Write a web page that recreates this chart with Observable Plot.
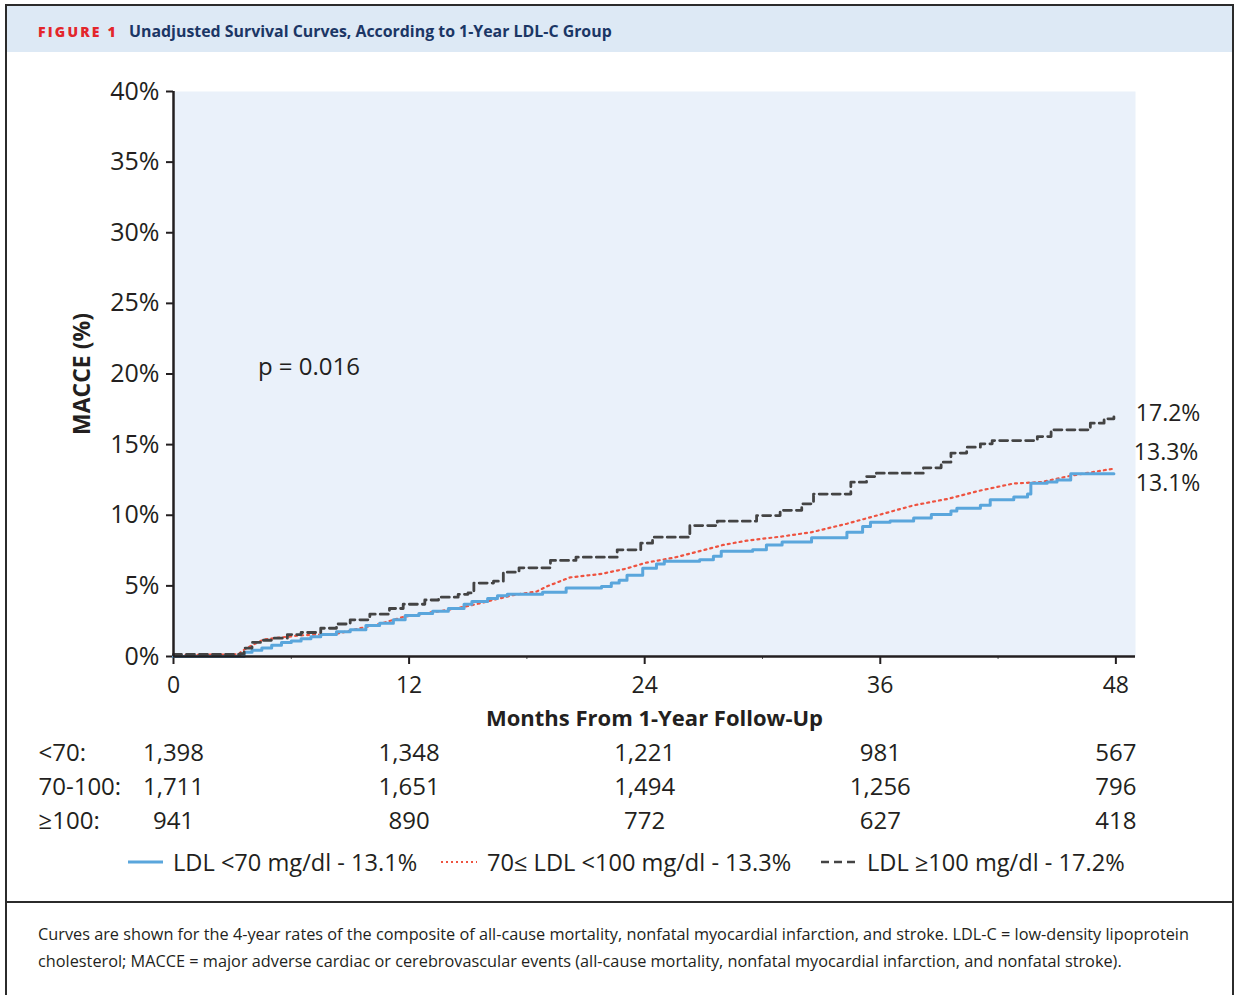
<!DOCTYPE html>
<html><head><meta charset="utf-8">
<script src="https://cdn.jsdelivr.net/npm/d3@7"></script>
<script src="https://cdn.jsdelivr.net/npm/@observablehq/plot@0.6"></script>
<style>
body{margin:0;background:#fff;font-family:"Open Sans",sans-serif;color:#231f20;}
#fig{position:relative;width:1238px;height:995px;overflow:hidden;background:#fff;}
.border{position:absolute;left:5px;top:4px;width:1229px;height:1010px;border:2px solid #2b2b2b;box-sizing:border-box;}
.header{position:absolute;left:7px;top:6px;width:1225px;height:46px;background:#dde9f5;}
.title{position:absolute;left:38px;top:21px;white-space:nowrap;line-height:20px;}
.fig1{color:#e3262b;font-weight:800;font-size:14px;letter-spacing:2.2px;}
.ttl{color:#1b3665;font-weight:700;font-size:15.9px;margin-left:11px;}
.sep{position:absolute;left:5px;top:901px;width:1229px;height:2px;background:#2b2b2b;}
.caption{position:absolute;left:38px;top:921px;font-size:16.3px;line-height:27px;white-space:nowrap;color:#231f20;}
#chart{position:absolute;left:0;top:52px;}
.leg{position:absolute;top:846px;font-size:23.6px;white-space:nowrap;display:flex;align-items:center;height:32px;}
.leg svg{margin-right:10px;}
</style></head>
<body><div id="fig">
<div class="header"></div>
<div class="title"><span class="fig1">FIGURE 1</span><span class="ttl">Unadjusted Survival Curves, According to 1-Year LDL-C Group</span></div>
<div id="chart"></div>
<div class="leg" style="left:128px"><svg width="35" height="6"><line x1="0" x2="35" y1="3" y2="3" stroke="#5aa6dc" stroke-width="3"/></svg>LDL &lt;70 mg/dl - 13.1%</div>
<div class="leg" style="left:440px"><svg width="37" height="6"><line x1="1" x2="37" y1="3" y2="3" stroke="#ee5340" stroke-width="2" stroke-dasharray="2,3"/></svg>70≤ LDL &lt;100 mg/dl - 13.3%</div>
<div class="leg" style="left:821px"><svg width="36" height="6"><line x1="0" x2="36" y1="3" y2="3" stroke="#444" stroke-width="2.5" stroke-dasharray="8,5"/></svg>LDL ≥100 mg/dl - 17.2%</div>
<div class="sep"></div>
<div class="caption">Curves are shown for the 4-year rates of the composite of all-cause mortality, nonfatal myocardial infarction, and stroke. LDL-C = low-density lipoprotein<br>cholesterol; MACCE = major adverse cardiac or cerebrovascular events (all-cause mortality, nonfatal myocardial infarction, and nonfatal stroke).</div>
<div class="border"></div>
</div>
<script>
// ---- data ----
const months = [0, 12, 24, 36, 48];
const minorMonths = [6, 18, 30, 42];
const yTicks = [0, 5, 10, 15, 20, 25, 30, 35, 40];
const riskLow = [1398, 1348, 1221, 981, 567];
const riskMid = [1711, 1651, 1494, 1256, 796];
const riskHigh = [941, 890, 772, 627, 418];
const riskLabels = ["<70:", "70-100:", "≥100:"];
const endLabels = [13.1, 13.3, 17.2];
const pValue = "p = 0.016";

// [months, cumulative MACCE %]
const ldlLow = [[0,0],[3.4,0],[3.6,0.3],[4.0,0.45],[4.5,0.6],[5.0,0.8],[5.5,1.0],[6.0,1.1],[6.5,1.25],[7.0,1.4],[7.5,1.55],[8.3,1.75],[9.0,1.9],[9.8,2.2],[10.5,2.35],[11.2,2.6],[11.8,2.9],[12.5,3.05],[13.2,3.2],[14.0,3.4],[14.8,3.7],[15.2,3.9],[16.0,4.1],[16.5,4.3],[17.0,4.4],[18.8,4.55],[20.0,4.85],[21.8,4.95],[22.3,5.2],[22.7,5.4],[23.1,5.75],[23.9,6.25],[24.6,6.55],[25.0,6.75],[26.8,6.85],[27.5,7.1],[27.9,7.45],[29.5,7.55],[30.2,7.9],[31.0,8.1],[32.5,8.4],[34.3,8.8],[35.1,9.2],[35.5,9.5],[36.5,9.6],[37.7,9.8],[38.6,10.05],[39.6,10.3],[39.9,10.5],[41.1,10.7],[41.6,11.1],[42.8,11.3],[43.5,11.5],[43.67,12.27],[44.5,12.35],[45.0,12.5],[45.7,12.93],[47.9,12.93]];
const ldlMid = [[0,0.1],[3.3,0.15],[3.5,0.4],[4.0,0.8],[4.6,1.2],[5.5,1.35],[6.5,1.5],[8.3,1.6],[9.5,2.0],[10.5,2.3],[11.7,2.8],[13,3.1],[14,3.3],[15.1,3.6],[16,3.9],[17.3,4.35],[18.5,4.6],[19.0,4.95],[20.2,5.6],[21.8,5.85],[23,6.2],[24.1,6.65],[25.5,7.0],[27.2,7.6],[28,7.9],[29.2,8.2],[31,8.5],[32.5,8.8],[34.3,9.4],[36.0,10.05],[37.7,10.7],[39.4,11.15],[41.1,11.75],[42.8,12.25],[44.2,12.35],[45.7,12.8],[47.9,13.3]];
const ldlHigh = [[0,0.15],[3.4,0.2],[3.6,0.6],[4.0,1.0],[4.5,1.15],[5.0,1.3],[5.8,1.55],[6.5,1.7],[7.5,2.0],[8.3,2.3],[9.0,2.6],[10,3.0],[11,3.4],[11.7,3.7],[12.8,4.0],[13.5,4.2],[14.5,4.4],[15.0,4.5],[15.3,5.2],[16.3,5.33],[16.8,5.97],[17.6,6.28],[19.2,6.8],[20.5,7.03],[22.6,7.55],[23.8,8.02],[24.4,8.45],[26.3,9.27],[27.7,9.58],[29.7,9.98],[30.9,10.35],[32.0,10.81],[32.6,11.5],[34.5,12.34],[35.3,12.74],[35.8,12.98],[38.2,13.36],[39.1,13.76],[39.6,14.4],[40.4,14.82],[41.1,15.06],[41.7,15.29],[44.0,15.57],[44.7,16.05],[46.7,16.52],[47.4,16.83],[47.9,17.18]];

// ---- chart ----
const fmt = d3.format(",");
const ink = "#231f20";
const riskMark = (vals, dy) => Plot.text(vals, {x: (d, i) => months[i], text: d => fmt(d), frameAnchor: "bottom", lineAnchor: "middle", dy, fontSize: 24, fill: ink});
const rowLabel = (t, dy) => Plot.text([t], {frameAnchor: "bottom-left", lineAnchor: "middle", dx: -135, dy, textAnchor: "start", fontSize: 24, fill: ink});

const chart = Plot.plot({
  width: 1238, height: 848,
  marginLeft: 173, marginRight: 103, marginTop: 39, marginBottom: 244,
  x: {domain: [0, 49]},
  y: {domain: [0, 40]},
  style: {fontFamily: "Open Sans, sans-serif", color: ink, background: "transparent"},
  marks: [
    Plot.frame({fill: "#eaf1fa", stroke: null}),
    Plot.axisX({ticks: minorMonths, tickSize: 3, tickFormat: () => "", label: null, stroke: "#555"}),
    Plot.axisX({ticks: months, tickSize: 8, tickPadding: 12, fontSize: 23, label: null, strokeWidth: 2, stroke: ink}),
    Plot.axisY({ticks: yTicks, tickSize: 7, tickPadding: 7, tickFormat: d => d + "%", fontSize: 25, label: null, strokeWidth: 2, stroke: ink}),
    Plot.line(ldlMid, {x: d => d[0], y: d => d[1], stroke: "#ee5340", strokeWidth: 2.2, strokeDasharray: "2,4"}),
    Plot.line(ldlLow, {x: d => d[0], y: d => d[1], curve: "step-after", stroke: "#5aa6dc", strokeWidth: 3}),
    Plot.line(ldlHigh, {x: d => d[0], y: d => d[1], curve: "step-after", stroke: "#444", strokeWidth: 2.8, strokeDasharray: "8,5"}),
    Plot.ruleY([0], {stroke: ink, strokeWidth: 2.5}),
    Plot.ruleX([0], {stroke: ink, strokeWidth: 2.5}),
    Plot.text([pValue], {x: 4.3, y: 20.5, textAnchor: "start", fontSize: 24, fill: ink}),
    Plot.text([endLabels[2]], {x: 48, y: d => d, text: d => d + "%", dx: 20, textAnchor: "start", fontSize: 23, fill: ink}),
    Plot.text([endLabels[1]], {x: 48, y: d => d, text: d => d + "%", dx: 18, dy: -16, textAnchor: "start", fontSize: 23, fill: ink}),
    Plot.text([endLabels[0]], {x: 48, y: d => d, text: d => d + "%", dx: 20, dy: 12, textAnchor: "start", fontSize: 23, fill: ink}),
    Plot.text(["MACCE (%)"], {frameAnchor: "left", textAnchor: "middle", lineAnchor: "middle", rotate: -90, dx: -91, fontSize: 23, fontWeight: "bold", fill: ink}),
    Plot.text(["Months From 1-Year Follow-Up"], {frameAnchor: "bottom", lineAnchor: "middle", dy: 62, fontSize: 22, fontWeight: "bold", fill: ink}),
    rowLabel(riskLabels[0], 97), rowLabel(riskLabels[1], 131), rowLabel(riskLabels[2], 165),
    riskMark(riskLow, 97), riskMark(riskMid, 131), riskMark(riskHigh, 165)
  ]
});
document.getElementById("chart").appendChild(chart);
</script>
</body></html>
